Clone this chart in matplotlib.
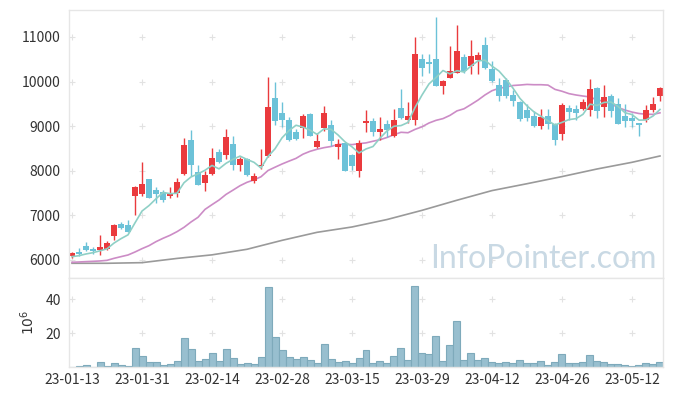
import matplotlib
matplotlib.use('Agg')
import matplotlib.pyplot as plt
import numpy as np
import pandas as pd

# daily candles, 23-01-13 .. 23-05-18 (85 trading days)
opens = [6097, 6179, 6321, 6254, 6217, 6254, 6546, 6807, 6777, 7442,
         7472, 7809, 7577, 7517, 7442, 7510, 7936, 8691, 7966, 7719,
         7936, 8421, 8362, 8601, 8137, 8272, 7779, 8100, 8332, 9632,
         9296, 9139, 8870, 8960, 9273, 8526, 8960, 9027, 8526, 8616,
         8354, 8003, 9080, 9117, 8870, 9057, 8788, 9415, 9146, 9146,
         10499, 10439, 10507, 9901, 10088, 10200, 10559, 10349, 10484, 10828,
         10275, 9924, 10036, 9700, 9543, 9363, 9229, 9004, 9221, 9057,
         8833, 9408, 9385, 9393, 9363, 9849, 9438, 9677, 9498, 9221,
         9184, 9064, 9139, 9363, 9685]
highs = [6179, 6269, 6403, 6284, 6553, 6426, 6807, 6859, 6897, 7659,
         8197, 7824, 7644, 7570, 7629, 7831, 8728, 8915, 8130, 7995,
         8504, 8481, 8930, 8788, 8302, 8287, 7943, 8481, 10096, 9991,
         9535, 9199, 8930, 9273, 9288, 8855, 9453, 9131, 8705, 8630,
         8370, 8691, 9363, 9176, 9199, 9139, 9378, 9826, 9535, 10993,
         10619, 10618, 11455, 10035, 10798, 11261, 10611, 10925, 10663, 11007,
         10470, 10088, 10088, 9812, 9558, 9498, 9348, 9378, 9393, 9072,
         9513, 9475, 9475, 9610, 10051, 9887, 9924, 9722, 9625, 9498,
         9288, 9079, 9468, 9662, 9887]
lows = [6045, 6097, 6209, 6142, 6120, 6224, 6448, 6687, 6628, 7016,
        7427, 7383, 7270, 7308, 7398, 7405, 7913, 7891, 7689, 7547,
        7906, 8167, 8272, 8018, 7995, 7876, 7719, 8033, 8317, 9019,
        8989, 8675, 8690, 8743, 8780, 8504, 8892, 8556, 8257, 8003,
        8020, 7853, 8877, 8788, 8690, 8765, 8758, 9154, 9080, 9034,
        10125, 10200, 9901, 9714, 10073, 10185, 10200, 10163, 10163, 10290,
        9984, 9573, 9625, 9453, 9124, 9117, 8974, 8930, 8937, 8571,
        8691, 9139, 9139, 9363, 9236, 9176, 9199, 9206, 9042, 8990,
        8975, 8780, 9094, 9326, 9565]
closes = [6157, 6142, 6231, 6209, 6291, 6381, 6785, 6725, 6635, 7637,
          7704, 7398, 7487, 7345, 7502, 7749, 8578, 8137, 7689, 7906,
          8287, 8197, 8758, 8137, 8264, 7913, 7876, 8122, 9430, 9124,
          9139, 8690, 8720, 9229, 8780, 8668, 9303, 8668, 8601, 8003,
          8108, 8616, 9117, 8877, 8945, 8915, 9139, 9191, 9229, 10619,
          10312, 10387, 9909, 10013, 10237, 10678, 10237, 10574, 10596, 10312,
          10013, 9685, 9685, 9565, 9161, 9184, 9004, 9199, 9057, 8691,
          9475, 9318, 9303, 9543, 9827, 9333, 9655, 9348, 9057, 9117,
          9124, 9034, 9363, 9498, 9857]
volumes = [0.2, 0.6, 1.0, 0.2, 2.7, 0.4, 2.2, 1.0, 0.4, 11.0,
           6.3, 2.7, 2.7, 1.0, 1.6, 3.5, 16.9, 10.4, 3.5, 4.5,
           8.0, 3.5, 10.4, 5.1, 1.6, 2.2, 1.6, 5.7, 46.9, 17.5,
           9.8, 5.7, 4.5, 5.7, 3.9, 2.2, 13.3, 4.5, 2.7, 3.5,
           2.2, 5.1, 9.8, 2.2, 3.3, 2.2, 6.3, 11.0, 3.9, 47.5,
           8.0, 7.5, 18.0, 3.3, 12.7, 26.9, 3.9, 8.0, 3.9, 5.1,
           2.7, 2.2, 2.7, 2.2, 3.9, 2.2, 2.2, 3.3, 1.0, 2.7,
           7.5, 2.2, 2.2, 2.7, 6.9, 3.3, 2.7, 1.6, 1.6, 1.0,
           0.4, 1.0, 2.2, 1.6, 2.7]

# moving averages need days before the window -> start values
ma5_start = [6075, 6097, 6135, 6164]
ma20_start = [5948, 5955, 5963, 5970, 5978, 5992, 6037, 6075, 6112, 6179,
              6254, 6321, 6411, 6486, 6553, 6635, 6732, 6852, 6957]
ma120_idx = [0, 5, 10, 15, 20, 25, 30, 35, 40, 45, 50, 55, 60, 65, 70, 75, 80, 84]
ma120_val = [5926, 5926, 5940, 6035, 6115, 6240, 6440, 6620, 6740, 6907,
             7113, 7340, 7556, 7710, 7870, 8040, 8190, 8332]

tick_labels = ['23-01-13', '23-01-31', '23-02-14', '23-02-28', '23-03-15',
               '23-03-29', '23-04-12', '23-04-26', '23-05-12']

plt.rcParams['font.family'] = ['Noto Sans CJK KR', 'DejaVu Sans']

o = np.array(opens)
c = np.array(closes)
x = np.arange(len(c))
s = pd.Series(c, dtype=float)
ma5 = s.rolling(5).mean().values
ma5[:4] = ma5_start
ma20 = s.rolling(20).mean().values
ma20[:19] = ma20_start

up_col = '#ea3a3d'
dn_col = '#6cc2d8'
cols = [up_col if cc >= oo else dn_col for oo, cc in zip(o, c)]

fig = plt.figure(figsize=(6.73, 3.96), dpi=100)
ax = fig.add_axes([69/673, 118/396, 594/673, 268/396])
axv = fig.add_axes([69/673, 29/396, 594/673, 89/396], sharex=ax)

# grid crosses
gx = np.arange(0, 90, 10)
for yy in range(6000, 12000, 1000):
    ax.scatter(gx, [yy]*len(gx), marker='+', s=14, color='#e2e2e2', lw=0.8, zorder=0)
for yy in [20, 40]:
    axv.scatter(gx, [yy]*len(gx), marker='+', s=14, color='#e2e2e2', lw=0.8, zorder=0)

ax.plot(ma120_idx, ma120_val, color='#9a9a9a', lw=1.2, zorder=1)
ax.plot(x, ma20, color='#cc8cc6', lw=1.2, zorder=1)
ax.plot(x, ma5, color='#8fd0c6', lw=1.2, zorder=3)

ax.vlines(x, lows, highs, colors=cols, lw=1, zorder=2)
body = np.maximum(np.abs(c - o), 20)
ax.bar(x, body, bottom=np.minimum(o, c), width=0.72, color=cols, zorder=2)

axv.bar(x, volumes, width=1.0, color='#98bfcf', edgecolor='#7eaabb', lw=0.8)

ax.set_xlim(-0.43, 84.43)
ax.set_ylim(5596, 11605)
axv.set_ylim(0, 52.4)
ax.set_yticks(range(6000, 12000, 1000))
axv.set_yticks([20, 40])
axv.set_xticks(gx)
axv.set_xticklabels(tick_labels)
ax.tick_params(labelbottom=False)

for a in (ax, axv):
    a.tick_params(length=0, labelsize=10, colors='#333333', pad=6)
    for sp in a.spines.values():
        sp.set_color('#e6e6e6')
        sp.set_linewidth(1)
axv.tick_params(axis='x', pad=4)
axv.set_ylabel('$10^6$', fontsize=10, color='#333333', labelpad=6)

fig.text(657/673, (396-268)/396, 'InfoPointer.com', ha='right', va='baseline',
         fontsize=23, color='#c9d9e4', family='Lato')

fig.savefig('out.png', dpi=100)
